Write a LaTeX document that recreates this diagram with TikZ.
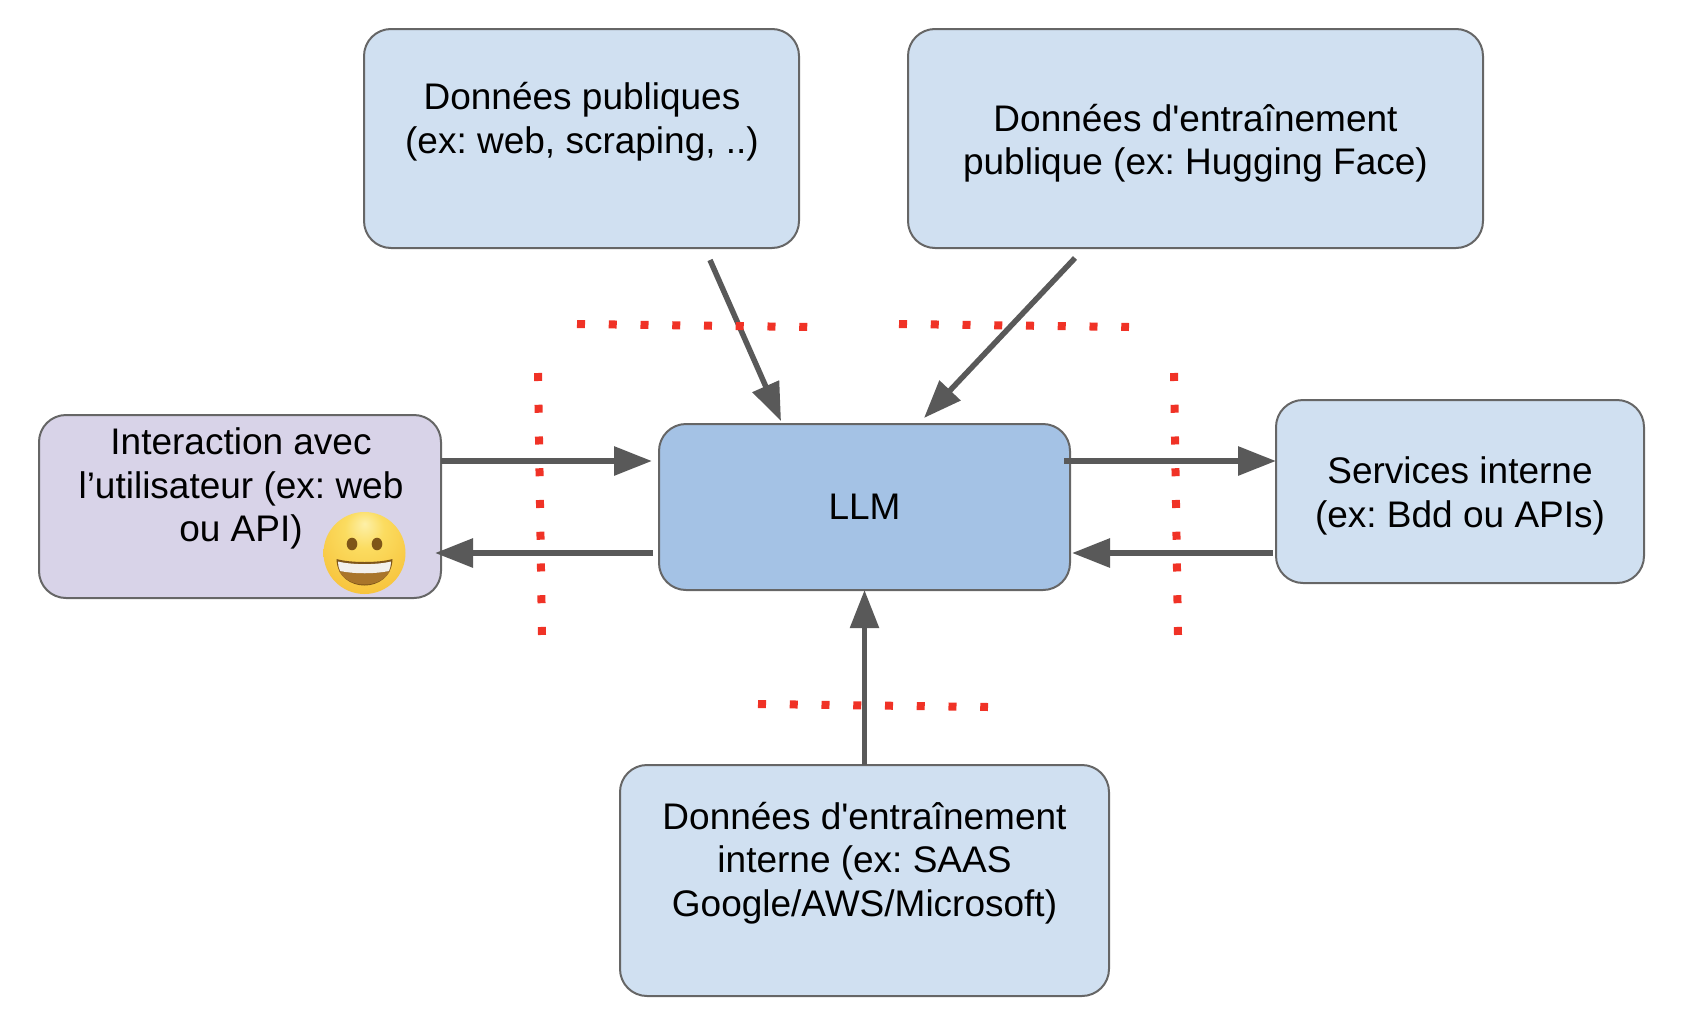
\documentclass[tikz,border=0pt]{standalone}
\usepackage{fontspec}
\newfontfamily\plainfont{Liberation Sans}
\usetikzlibrary{arrows.meta,calc}
\definecolor{boxblue}{HTML}{D0E0F1}
\definecolor{llmblue}{HTML}{A4C2E5}
\definecolor{boxpurple}{HTML}{D8D3E8}
\definecolor{edgegrey}{HTML}{666666}
\definecolor{arrowgrey}{HTML}{595959}
\definecolor{dotred}{HTML}{F03226}
\definecolor{faceA}{HTML}{FDF0A8}
\definecolor{faceB}{HTML}{FBDC60}
\definecolor{faceC}{HTML}{F7C23A}
\definecolor{faceD}{HTML}{E5981F}
\definecolor{eyebrown}{HTML}{7E5518}
\definecolor{mouthbrown}{HTML}{A9752A}
\definecolor{mouthedge}{HTML}{7E5518}
\definecolor{toothwhite}{HTML}{F2F0EC}
\pgfdeclareradialshading{emojiface}{\pgfpoint{0bp}{18bp}}{%
  color(0bp)=(faceA);
  color(12bp)=(faceB);
  color(36bp)=(faceC);
  color(62bp)=(faceD);
  color(72bp)=(faceD)}
\tikzset{
  x=1pt,y=-1pt,
  card/.style={draw=edgegrey,line width=2pt,rounded corners=27pt,anchor=north west,inner sep=0pt,outer sep=0pt},
  label/.style={font=\plainfont\frenchspacing\fontsize{37}{43.5}\selectfont,align=center,inner sep=0pt,outer sep=0pt,text=black},
  link/.style={draw=arrowgrey,line width=6pt,-{Triangle[length=38pt,width=28pt,fill=arrowgrey]}},
  thinlink/.style={draw=arrowgrey,line width=5.5pt,-{Triangle[length=38pt,width=28pt,fill=arrowgrey]}},
  redline/.style={draw=dotred,line width=8pt,dash pattern=on 8pt off 23.75pt},
}
\begin{document}
\begin{tikzpicture}
\useasboundingbox (0,0) rectangle (1708,1020);
% boxes
\node[card,fill=boxblue,minimum width=435pt,minimum height=219pt] (pub) at (364,29) {};
\node[card,fill=boxblue,minimum width=575pt,minimum height=219pt] (train) at (908,29) {};
\node[card,fill=boxpurple,minimum width=402pt,minimum height=183pt] (user) at (39,415) {};
\node[card,fill=llmblue,minimum width=411pt,minimum height=166pt] (llm) at (659,424) {};
\node[card,fill=boxblue,minimum width=368pt,minimum height=183pt] (svc) at (1276,400) {};
\node[card,fill=boxblue,minimum width=489pt,minimum height=231pt] (intern) at (620,765) {};
% texts
\node[label] (tpub) at (582,121.5) {Données publiques\\(ex: web, scraping, ..)};
\node[label] (ttrain) at (1195.5,143) {Données d'entraînement\\publique (ex: Hugging Face)};
\node[label] (tuser) at (241,488.5) {Interaction avec\\l’utilisateur (ex: web\\ou API)};
\node[label] (tllm) at (864.5,507) {LLM};
\node[label] (tsvc) at (1460,496) {Services interne\\(ex: Bdd ou APIs)};
\node[label] (tintern) at (864.5,863) {Données d'entraînement\\interne (ex: SAAS\\Google/AWS/Microsoft)};
% red dotted lines
\coordinate (d1a) at (581-4,324); \coordinate (d1b) at (804+4,327);
\coordinate (d2a) at (903-4,324); \coordinate (d2b) at (1125+4,327);
\coordinate (d3a) at (538,373); \coordinate (d3b) at (542,635);
\coordinate (d4a) at (1174,373); \coordinate (d4b) at (1178,635);
\coordinate (d5a) at (762-4,704); \coordinate (d5b) at (984+4,707);
\draw[redline] (d5a) -- (d5b);
\draw[redline] (d3a) -- (d3b);
\draw[redline] (d4a) -- (d4b);
\draw[redline] (d2a) -- (d2b);
% arrows
\draw[link] ([yshift=-46pt]user.north east) -- ([xshift=-7pt,yshift=-37pt]llm.north west);
\draw[link] ([xshift=-6pt,yshift=37pt]llm.south west) -- ([xshift=-6pt,yshift=45pt]user.south east);
\draw[link] ([xshift=-6pt,yshift=-37pt]llm.north east) -- ([yshift=-61pt]svc.north west);
\draw[link] ([xshift=-3pt,yshift=30pt]svc.south west) -- ([xshift=2pt,yshift=37pt]llm.south east);
\draw[thinlink] (intern.north -| llm.south) -- (llm.south);
\coordinate (pa) at (710,260); \coordinate (pb) at (781,421);
\coordinate (ta) at (1075,258); \coordinate (tb) at (924,418);
\draw[thinlink] (pa) -- (pb);
\draw[thinlink] (ta) -- (tb);
\draw[redline] (d1a) -- (d1b);
% emoji
\shade[shading=emojiface] (364.5,553) circle (41);
\fill[eyebrown] (352,544) ellipse (5.3 and 6.3);
\fill[eyebrown] (377,544) ellipse (5.3 and 6.3);
\fill[mouthedge] (336.5,559) .. controls (350,563) and (379,563) .. (392.5,559) .. controls (392,577) and (378,585.5) .. (364.5,585.5) .. controls (351,585.5) and (337,577) .. (336.5,559) -- cycle;
\fill[mouthbrown] (339,571) .. controls (354,574) and (375,574) .. (390,571) .. controls (385,580) and (375,584.5) .. (364.5,584.5) .. controls (354,584.5) and (344,580) .. (339,571) -- cycle;
\fill[toothwhite] (338,561.5) .. controls (352,565) and (377,565) .. (391,561.5) .. controls (391,564.5) and (390.5,568) .. (389,571) .. controls (375,574) and (354,574) .. (340,571) .. controls (338.5,568) and (338,564.5) .. (338,561.5) -- cycle;
\end{tikzpicture}
\end{document}
